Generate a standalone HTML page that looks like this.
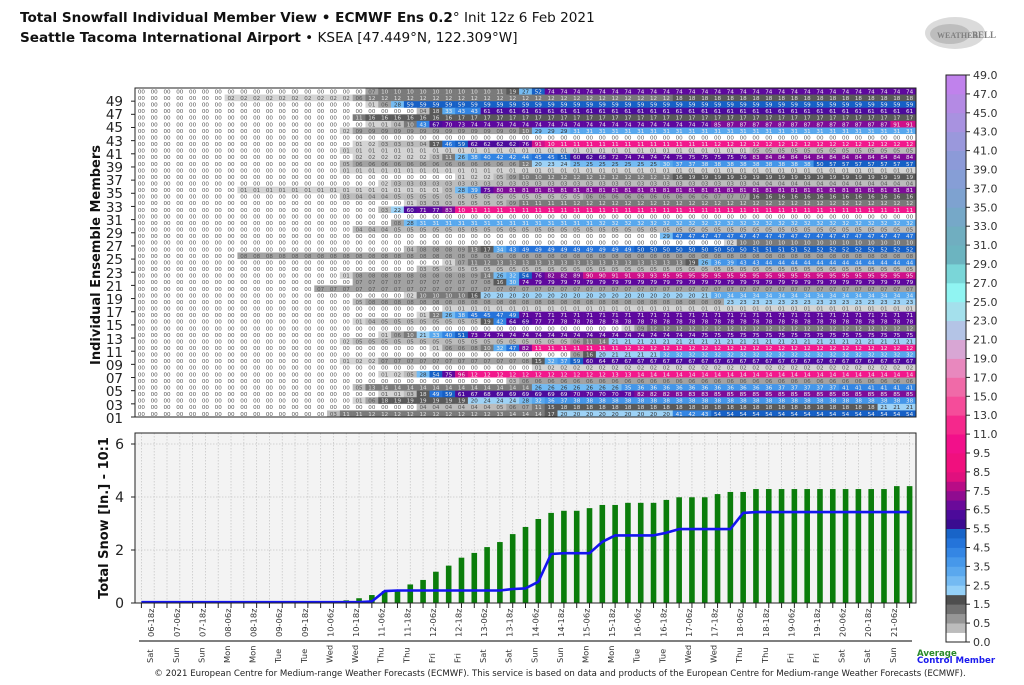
<!DOCTYPE html>
<html><head><meta charset="utf-8">
<style>
html,body{margin:0;padding:0;background:#fff;}
body{width:1024px;height:685px;overflow:hidden;position:relative;font-family:"DejaVu Sans","Liberation Sans",sans-serif;}
svg{position:absolute;left:0;top:0;}
</style></head><body>
<svg id="s" width="1024" height="685" viewBox="0 0 1024 685" xmlns="http://www.w3.org/2000/svg" font-family="DejaVu Sans, Liberation Sans, sans-serif">
<text x="20" y="22" font-size="13.6" fill="#111"><tspan font-weight="bold">Total Snowfall Individual Member View • ECMWF Ens 0.2</tspan>° Init 12z 6 Feb 2021</text>
<text x="20" y="42" font-size="13.6" fill="#111"><tspan font-weight="bold">Seattle Tacoma International Airport</tspan> • KSEA [47.449°N, 122.309°W]</text>
<g opacity="0.75">
<ellipse cx="955" cy="33" rx="30" ry="16" fill="#d0d0d0"/>
<ellipse cx="950" cy="34" rx="20" ry="10" fill="#a8a8a8"/>
<text x="937" y="38" font-size="8" font-family="Liberation Serif, serif" font-weight="bold" fill="#555">WEATHER</text>
<text x="972" y="38" font-size="9" font-family="Liberation Serif, serif" font-weight="bold" fill="#555">BELL</text>
</g>
<text transform="translate(100,255) rotate(-90)" text-anchor="middle" font-size="13" font-weight="bold" fill="#111">Individual Ensemble Members</text>
<text transform="translate(108,518) rotate(-90)" text-anchor="middle" font-size="13" font-weight="bold" fill="#111">Total Snow [In.] - 10:1</text>
<g id="grid"></g>
<g id="ylab" font-size="13.5" fill="#222" text-anchor="end">
<text x="123" y="106">49</text><text x="123" y="119">47</text><text x="123" y="132">45</text><text x="123" y="146">43</text><text x="123" y="159">41</text><text x="123" y="172">39</text><text x="123" y="185">37</text><text x="123" y="198">35</text><text x="123" y="212">33</text><text x="123" y="225">31</text><text x="123" y="238">29</text><text x="123" y="251">27</text><text x="123" y="264">25</text><text x="123" y="278">23</text><text x="123" y="291">21</text><text x="123" y="304">19</text><text x="123" y="317">17</text><text x="123" y="330">15</text><text x="123" y="344">13</text><text x="123" y="357">11</text><text x="123" y="370">09</text><text x="123" y="383">07</text><text x="123" y="396">05</text><text x="123" y="410">03</text><text x="123" y="423">01</text>
</g>
<rect x="135" y="433" width="781" height="170" fill="#f3f3f3" stroke="none"/>
<g id="chart"></g>
<g font-size="14" fill="#222" text-anchor="end">
<text x="124" y="449">6</text><text x="124" y="502">4</text><text x="124" y="555">2</text><text x="124" y="608">0</text>
</g>
<line x1="139" y1="641" x2="912" y2="641" stroke="#333" stroke-width="1.2"/>
<g id="xlab" font-size="8.3" fill="#333"></g>
<text x="560" y="676" text-anchor="middle" font-size="8.6" fill="#222">© 2021 European Centre for Medium-range Weather Forecasts (ECMWF). This service is based on data and products of the European Centre for Medium-range Weather Forecasts (ECMWF).</text>
<text x="917" y="656" font-size="8.6" font-weight="bold" fill="#2a8a2a">Average</text>
<text x="917" y="663" font-size="8.6" font-weight="bold" fill="#1a1aee">Control Member</text>
<g id="cbar"></g>
<g font-size="11" fill="#333" id="cblab"></g>
</svg>
<script>
(function(){
var NS="http://www.w3.org/2000/svg";
function el(p,t,a,txt){var e=document.createElementNS(NS,t);for(var k in a)e.setAttribute(k,a[k]);if(txt!==undefined)e.textContent=txt;p.appendChild(e);return e;}
var R={
50:[[18,7],[19,10],[28,11],[29,19],[30,27],[31,52],[32,74]],
49:[[7,2],[17,6],[18,12],[42,18]],
48:[[18,1],[19,6],[20,28],[21,59]],
47:[[22,4],[23,18],[24,33],[25,43],[27,61]],
46:[[17,11],[18,16],[25,17]],
45:[[18,1],[20,4],[21,10],[22,43],[23,67],[24,70],[25,73],[26,74],[45,85],[46,87],[59,91]],
44:[[16,2],[17,9],[30,10],[31,29],[34,31]],
43:[],
42:[[17,1],[18,2],[19,3],[22,4],[23,17],[24,46],[25,59],[26,62],[30,76],[31,91],[32,100],[33,110],[45,120]],
41:[[16,1],[48,5]],
40:[[17,2],[23,3],[24,11],[25,26],[26,38],[27,40],[28,42],[30,44],[31,45],[33,51],[34,60],[35,62],[36,68],[37,72],[38,74],[42,75],[47,76],[48,83],[49,84]],
39:[[16,5],[17,6],[30,12],[31,20],[32,23],[33,24],[34,25],[41,30],[42,37],[44,38],[53,50],[54,57]],
38:[[16,1]],
37:[[25,1],[26,2],[28,5],[29,9],[30,10],[32,12],[42,16],[43,19]],
36:[[19,2],[20,3],[48,4]],
35:[[8,1],[24,3],[25,28],[26,39],[27,75],[28,80],[29,81]],
34:[[16,3],[17,4],[20,5],[35,6],[45,7],[48,16]],
33:[[21,1],[22,3],[25,5],[29,9],[30,11],[34,12]],
32:[[19,3],[20,22],[21,60],[22,71],[23,77],[24,83],[25,100],[26,110]],
31:[],
30:[[20,8],[21,28],[22,31],[36,32]],
29:[[17,4],[20,5]],
28:[[41,29],[42,47]],
27:[[46,2],[47,10]],
26:[[21,4],[22,8],[25,9],[26,13],[27,17],[28,34],[29,43],[30,49],[39,50],[48,51],[52,52]],
25:[[8,8]],
24:[[24,1],[25,7],[26,11],[27,12],[28,13],[43,19],[44,26],[45,36],[46,39],[47,43],[49,44]],
23:[[22,3],[23,5]],
22:[[16,1],[17,8],[26,9],[27,14],[28,26],[29,32],[30,54],[31,76],[32,82],[34,89],[35,90],[37,91],[39,93],[41,95]],
21:[[17,7],[27,8],[28,16],[29,30],[30,74],[31,79]],
20:[[14,7]],
19:[[21,2],[22,10],[26,16],[27,20],[44,21],[45,30],[46,34]],
18:[[17,5],[18,8],[45,9],[46,23]],
17:[[24,1]],
16:[[22,1],[23,12],[24,26],[25,38],[26,45],[28,47],[29,49],[30,71]],
15:[[17,1],[18,4],[19,5],[27,19],[28,42],[29,64],[30,69],[31,77],[33,78]],
14:[[38,1],[39,9],[40,12]],
13:[[19,1],[20,6],[21,10],[22,21],[23,33],[24,40],[25,51],[26,73],[27,74],[44,75]],
12:[[16,2],[17,5],[34,6],[35,11],[36,14],[37,21]],
11:[[23,1],[24,6],[26,8],[27,10],[28,32],[29,47],[30,82],[31,110],[38,120]],
10:[[34,6],[35,16],[36,20],[37,21],[41,32]],
9:[[16,1],[17,2],[19,7],[30,8],[31,15],[32,32],[33,37],[34,59],[35,60],[36,64],[37,67]],
8:[[31,1],[32,2]],
7:[[19,1],[20,2],[21,5],[22,28],[23,54],[24,75],[25,96],[26,120],[37,130],[39,140]],
6:[[29,3],[30,6]],
5:[[17,5],[18,13],[19,14],[31,26],[38,35],[39,36],[50,37],[55,41]],
4:[[19,1],[21,3],[22,18],[23,49],[24,59],[25,61],[26,67],[27,68],[28,69],[34,70],[38,78],[39,82],[42,83],[45,85]],
3:[[17,1],[18,6],[19,18],[20,19],[26,20],[27,24],[30,28],[31,32],[32,36],[33,37],[34,38]],
2:[[22,4],[28,5],[29,6],[30,7],[31,11],[32,15],[33,18],[58,21]],
1:[[15,3],[16,11],[18,12],[28,13],[29,14],[32,17],[33,20],[42,41],[43,42],[44,43],[45,54]]
};
function C(v){if(v==0)return'#ffffff';if(v<=2)return'#d4d4d4';if(v<=5)return'#bcbcbc';if(v<=9)return'#a2a2a2';if(v<=14)return'#7a7a7a';if(v<=19)return'#5a5a5a';if(v<=24)return'#9dd2f6';if(v<=29)return'#74bbf2';if(v<=34)return'#58a8ee';if(v<=39)return'#4496e9';if(v<=44)return'#3385e3';if(v<=49)return'#2573da';if(v<=59)return'#1660c6';if(v<=69)return'#4c0a9c';if(v<=79)return'#5e089e';if(v<=89)return'#7e0c98';if(v<=99)return'#d0108a';return'#f2188c';}
function T(v){if(v<10)return'#555';if(v<20)return'#e0e0e0';if(v<30)return'#333';return'#eee';}
var g=document.getElementById('grid');
var X0=135,CW=781/61,Y0=88,RH=329/50;
var bg=el(g,'g',{}),tg=el(g,'g',{'font-size':'5.6','text-anchor':'middle','font-family':'DejaVu Sans, sans-serif'});
for(var r=50;r>=1;r--){
 var segs=R[r],y=Y0+(50-r)*RH;
 for(var c=0;c<61;c++){
  var v=0;for(var i=0;i<segs.length;i++)if(c>=segs[i][0])v=segs[i][1];
  el(bg,'rect',{x:(X0+c*CW).toFixed(2),y:y.toFixed(2),width:(CW+0.3).toFixed(2),height:(RH+0.3).toFixed(2),fill:C(v)});
  var s=v>=100?Math.floor(v/10):v; s=(s<10?'0':'')+s;
  el(tg,'text',{x:(X0+c*CW+CW/2).toFixed(2),y:(y+RH-1.2).toFixed(2),fill:T(v)},s);
 }
 if(r%2==1){var yb=Y0+(51-r)*RH;el(g,'line',{x1:131,x2:135,y1:yb,y2:yb,stroke:'#222'});}
}
el(g,'rect',{x:135,y:88,width:781,height:329,fill:'none',stroke:'#222','stroke-width':1});
var ch=document.getElementById('chart');
function Y(v){return 603-v*26.5;}
for(var c=0;c<61;c++){var x=X0+c*CW+CW/2;el(ch,'line',{x1:x,x2:x,y1:433,y2:603,stroke:'#c8c8c8','stroke-dasharray':'1.5,1.5','stroke-width':0.8});}
[2,4,6].forEach(function(v){el(ch,'line',{x1:135,x2:916,y1:Y(v),y2:Y(v),stroke:'#c8c8c8','stroke-dasharray':'1.5,1.5','stroke-width':0.8});});
var A={16:0.1,17:0.18,18:0.3,19:0.45,20:0.45,21:0.7,22:0.87,23:1.18,24:1.41,25:1.71,26:1.89,27:2.11,28:2.3,29:2.6,30:2.87,31:3.17,32:3.4,33:3.48,34:3.48,35:3.58,36:3.7,37:3.7,38:3.78,39:3.78,40:3.78,41:3.89,42:3.99,43:3.99,44:3.99,45:4.11,46:4.19,47:4.19};
for(var c=48;c<=58;c++)A[c]=4.3;A[59]=4.41;A[60]=4.41;
for(var c in A){var x=X0+c*CW+CW/2;el(ch,'rect',{x:x-2.8,y:Y(A[c]),width:5.6,height:A[c]*26.5,fill:'#0b7d0b'});}
var B={};for(var c=0;c<=18;c++)B[c]=0.03;B[18]=0.06;B[19]=0.45;for(var c=20;c<=28;c++)B[c]=0.47;
B[29]=0.53;B[30]=0.55;B[31]=0.8;B[32]=1.85;B[33]=1.88;B[34]=1.88;B[35]=1.88;B[36]=2.31;B[37]=2.55;B[38]=2.55;B[39]=2.55;B[40]=2.55;B[41]=2.65;
for(var c=42;c<=46;c++)B[c]=2.79;B[47]=3.4;for(var c=48;c<=60;c++)B[c]=3.43;
var pts=[];for(var c=0;c<=60;c++)pts.push((X0+c*CW+CW/2).toFixed(1)+','+Y(B[c]).toFixed(1));
el(ch,'polyline',{points:pts.join(' '),fill:'none',stroke:'#1414f0','stroke-width':2.6,'stroke-linejoin':'round'});
el(ch,'rect',{x:135,y:433,width:781,height:170,fill:'none',stroke:'#222','stroke-width':1});
for(var c=0;c<61;c++){var x=X0+c*CW+CW/2;el(ch,'line',{x1:x,x2:x,y1:603,y2:608,stroke:'#222'});}
[0,2,4,6].forEach(function(v){el(ch,'line',{x1:131,x2:135,y1:Y(v),y2:Y(v),stroke:'#222'});});
var xl=document.getElementById('xlab');var days=['Sat','Sun','Mon','Tue','Wed','Thu','Fri'];
for(var k=0;k<30;k++){var h=18+12*k,d=6+Math.floor(h/24),hr=h%24;var c=2*k+1;var x=X0+c*CW+CW/2;
 var lab=(d<10?'0':'')+d+'-'+(hr<10?'0':'')+hr+'z';
 el(xl,'text',{transform:'translate('+x+',637) rotate(-90)'},lab);
 el(xl,'text',{transform:'translate('+(x-1)+',663) rotate(-90)'},days[(d-6)%7]);}
var cb=document.getElementById('cbar');
var low=['#ffffff','#bcbcbc','#969696','#707070','#4e4e4e','#94d0f8','#74baf2','#5aa8ee','#4698ea','#3486e4','#2474da','#1864c8','#3a0c90','#4c0a9a','#6a0a9a','#900c90','#b80c86','#e0107e','#f0107e','#f0107e'];
var pal=['#f2108a','#f5288c','#f54c9a','#f06aa8','#e888be','#d8a6d4','#b4c4e6','#a4e0ec','#90f4f2','#7ad6d8','#6cb4c0','#70aec0','#76a8c8','#7ea2d0','#869ed6','#8c9ad8','#9a98dc','#a892e0','#b48ae4','#c082ec'];
var n=30,cbTop=75,cbBot=642,step=(cbBot-cbTop)/n;
for(var i=0;i<n;i++){var y0=cbBot-(i+1)*step;var c1,c2;
 if(i<10){c1=low[i*2];c2=low[i*2+1];}else{c1=pal[i-10];c2=pal[i-10];}
 el(cb,'rect',{x:946,y:(y0+step/2).toFixed(2),width:20,height:(step/2+0.4).toFixed(2),fill:c1});
 el(cb,'rect',{x:946,y:y0.toFixed(2),width:20,height:(step/2+0.4).toFixed(2),fill:c2});
}
el(cb,'rect',{x:946,y:cbTop,width:20,height:cbBot-cbTop,fill:'none',stroke:'#222','stroke-width':1});
var labs=['0.0','0.5','1.5','2.5','3.5','4.5','5.5','6.5','7.5','8.5','9.5'];for(var v=11;v<=49;v+=2)labs.push(v+'.0');
var cl=document.getElementById('cblab');
for(var i=0;i<labs.length;i++){var y=cbBot-i*step;el(cl,'line',{x1:966,x2:970,y1:y,y2:y,stroke:'#222'});el(cl,'text',{x:973,y:y+4},labs[i]);}
})();
</script>
</body></html>
